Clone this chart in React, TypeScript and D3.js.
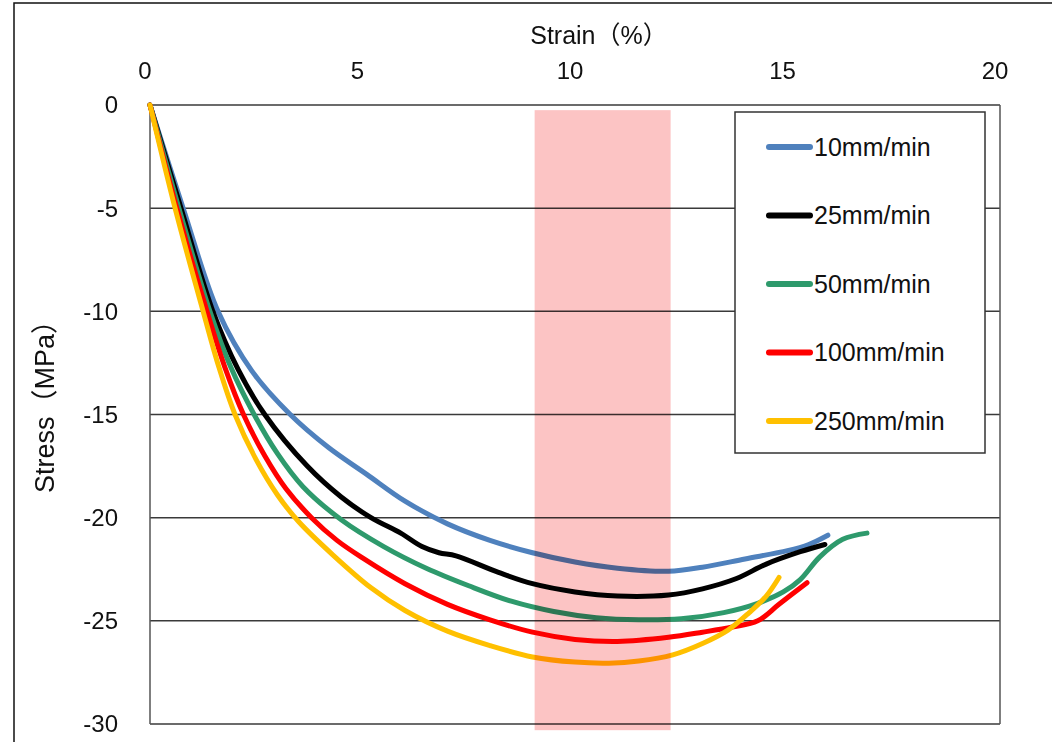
import { scaleLinear, line, curveCatmullRom } from "d3"

// strain (%) / stress (MPa) readings per loading speed
const speeds = ["10mm/min", "25mm/min", "50mm/min", "100mm/min", "250mm/min"]
const colors = ["#4f81bd", "#000000", "#2e9a6c", "#ff0000", "#ffc000"]

const strain10 = [0, 0.78, 1.6, 2.4, 3.3, 4.2, 5.1, 6.0, 7.0, 8.0, 9.0, 10.0, 11.0, 12.2, 13.0, 14.0, 15.0, 15.5, 15.95]
const stress10 = [0, -5, -10, -12.9, -15, -16.6, -17.9, -19.2, -20.3, -21.1, -21.7, -22.15, -22.45, -22.6, -22.4, -22.0, -21.6, -21.3, -20.85]

const strain25 = [0, 0.73, 1.48, 2.07, 2.7, 3.7, 4.5, 5.2, 5.9, 6.4, 6.8, 7.2, 8.2, 9.0, 10.0, 11.0, 12.2, 13.0, 13.8, 14.5, 15.3, 15.88]
const stress25 = [0, -5, -10, -12.8, -15, -17.5, -19.0, -20.0, -20.75, -21.4, -21.7, -21.85, -22.65, -23.2, -23.6, -23.8, -23.75, -23.45, -22.95, -22.25, -21.65, -21.3]

const strain50 = [0, 0.68, 1.41, 1.9, 2.45, 3.0, 3.6, 4.5, 5.5, 6.5, 7.5, 8.5, 9.5, 10.5, 11.5, 12.5, 13.5, 14.3, 14.9, 15.3, 15.76, 16.3, 16.87]
const stress50 = [0, -5, -10, -12.7, -15, -16.9, -18.5, -20.1, -21.4, -22.45, -23.3, -24.05, -24.55, -24.85, -24.95, -24.9, -24.6, -24.15, -23.6, -23.0, -21.9, -21.05, -20.75]

const strain100 = [0, 0.63, 1.34, 1.76, 2.2, 2.7, 3.2, 3.8, 4.4, 5.0, 6.0, 7.0, 8.0, 9.0, 10.0, 11.0, 12.2, 13.0, 13.7, 14.3, 14.8, 15.46]
const stress100 = [0, -5, -10, -12.7, -15, -17.0, -18.6, -20.0, -21.1, -21.95, -23.2, -24.2, -24.95, -25.55, -25.9, -26.0, -25.8, -25.55, -25.3, -25.0, -24.2, -23.15]

const strain250 = [0, 0.59, 1.25, 1.62, 2.0, 2.5, 3.0, 3.5, 4.3, 5.2, 6.0, 7.0, 8.0, 9.0, 10.0, 10.8, 11.5, 12.3, 13.0, 13.6, 14.1, 14.5, 14.8]
const stress250 = [0, -5, -10, -12.7, -15.0, -17.2, -18.9, -20.2, -21.8, -23.4, -24.5, -25.5, -26.2, -26.75, -27.0, -27.05, -26.95, -26.65, -26.1, -25.45, -24.6, -23.8, -22.9]

const strains = [strain10, strain25, strain50, strain100, strain250]
const stresses = [stress10, stress25, stress50, stress100, stress250]

const xTicks = [0, 5, 10, 15, 20]
const yTicks = [0, -5, -10, -15, -20, -25, -30]

// highlighted strain band
const bandStrain = [9.05, 12.25]
const bandStress = [-0.25, -30.3]

export default function App() {
  const width = 1052
  const height = 742
  const left = 150
  const right = 1000
  const top = 105
  const bottom = 724

  const x = scaleLinear().domain([0, 20]).range([left, right])
  const y = scaleLinear().domain([0, -30]).range([top, bottom])

  const lineGen = line<[number, number]>()
    .x((d) => x(d[0]))
    .y((d) => y(d[1]))
    .curve(curveCatmullRom.alpha(0.5))

  const font = "'Liberation Sans', Arial, 'Noto Sans CJK SC', sans-serif"

  const legendX = 735
  const legendY = 112
  const legendW = 250
  const legendH = 341
  const rowGap = 68.5

  return (
    <div style={{ position: "fixed", left: 0, top: 0 }}>
      <svg width={width} height={height} style={{ display: "block" }} fontFamily={font}>
        <rect x={0} y={0} width={width} height={height} fill="#fff" />
        <rect x={14} y={3} width={1200} height={900} fill="none" stroke="#111" strokeWidth={1.5} />

        {yTicks.map((t) => (
          <line key={t} x1={left} x2={right} y1={y(t)} y2={y(t)} stroke="#3a3a3a" strokeWidth={1.5} />
        ))}
        <line x1={left} x2={left} y1={top} y2={bottom} stroke="#555" strokeWidth={1.5} />
        <line x1={right} x2={right} y1={top} y2={bottom} stroke="#555" strokeWidth={1.5} />

        {yTicks.map((t) => (
          <text key={t} x={118} y={y(t)} dy="0.35em" textAnchor="end" fontSize={24} fill="#111">
            {t}
          </text>
        ))}
        {xTicks.map((t) => (
          <text key={t} x={x(t) - 5} y={79} textAnchor="middle" fontSize={24} fill="#111">
            {t}
          </text>
        ))}

        <text x={599} y={44} textAnchor="middle" fontSize={25} fill="#111">
          Strain（%）
        </text>
        <text
          transform={`translate(54, 400) rotate(-90)`}
          textAnchor="middle"
          fontSize={27}
          fill="#111"
        >
          Stress（MPa）
        </text>

        {speeds.map((s, i) => {
          const pts = strains[i].map((v, j) => [v, stresses[i][j]] as [number, number])
          return (
            <path
              key={s}
              d={lineGen(pts) || undefined}
              fill="none"
              stroke={colors[i]}
              strokeWidth={5}
              strokeLinecap="round"
              strokeLinejoin="round"
            />
          )
        })}

        <rect
          x={x(bandStrain[0])}
          y={y(bandStress[0])}
          width={x(bandStrain[1]) - x(bandStrain[0])}
          height={y(bandStress[1]) - y(bandStress[0])}
          fill="#fcc4c4"
          style={{ mixBlendMode: "multiply" }}
        />

        <rect x={legendX} y={legendY} width={legendW} height={legendH} fill="#fff" stroke="#333" strokeWidth={1.5} />
        {speeds.map((s, i) => {
          const ly = 147 + i * rowGap
          return (
            <g key={s}>
              <line x1={769} x2={810} y1={ly} y2={ly} stroke={colors[i]} strokeWidth={6} strokeLinecap="round" />
              <text x={814} y={ly} dy="0.35em" fontSize={25} fill="#111">
                {s}
              </text>
            </g>
          )
        })}
      </svg>
    </div>
  )
}
